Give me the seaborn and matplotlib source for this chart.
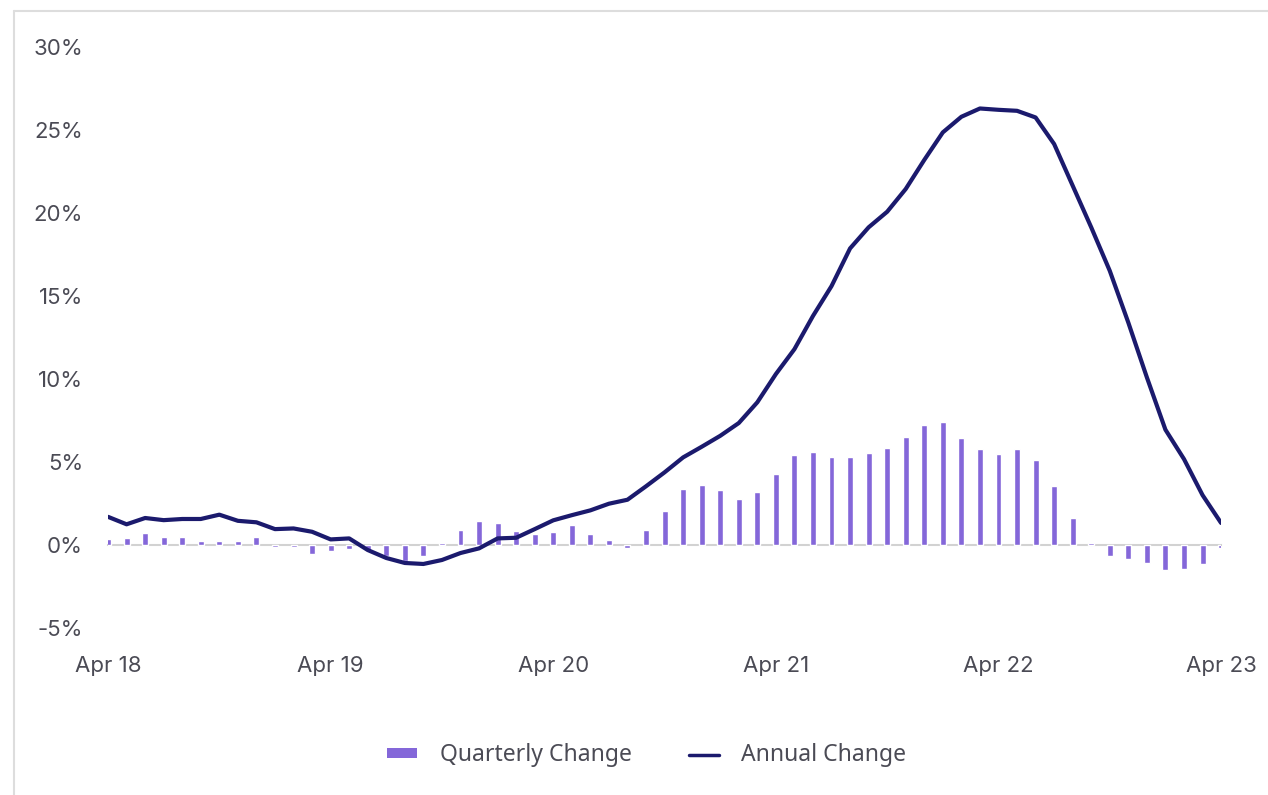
import numpy as np
import pandas as pd
import matplotlib
matplotlib.use("Agg")
import matplotlib.pyplot as plt
import seaborn as sns
from matplotlib.lines import Line2D
from matplotlib.patches import Patch

# ---- data (monthly, Apr 2018 .. Apr 2023) ----
months = pd.date_range("2018-04-01", "2023-04-01", freq="MS").strftime("%b %y").tolist()

quarterly_change = [
    0.36, 0.44, 0.72, 0.50, 0.46, 0.22, 0.26, 0.26, 0.46,            # Apr-Dec 18
    -0.10, -0.12, -0.54, -0.34, -0.22, -0.32, -0.66, -0.96, -0.66,   # Jan-Sep 19
    0.10, 0.88, 1.43,                                               # Oct-Dec 19
    1.30, 0.82, 0.64, 0.76, 1.18, 0.68, 0.32, -0.16, 0.92,           # Jan-Sep 20
    2.05, 3.37, 3.63,                                               # Oct-Dec 20
    3.33, 2.77, 3.19, 4.30, 5.44, 5.58, 5.30, 5.28, 5.54,            # Jan-Sep 21
    5.86, 6.53, 7.23,                                               # Oct-Dec 21
    7.43, 6.43, 5.76, 5.46, 5.76, 5.14, 3.57, 1.63, 0.10,            # Jan-Sep 22
    -0.66, -0.86, -1.06,                                            # Oct-Dec 22
    -1.50, -1.45, -1.14, -0.15,                                     # Jan-Apr 23
]

annual_change = [
    1.70, 1.25, 1.63, 1.50, 1.57, 1.57, 1.83, 1.46, 1.37,            # Apr-Dec 18
    0.96, 1.00, 0.80, 0.34, 0.40, -0.30, -0.78, -1.08, -1.14,        # Jan-Sep 19
    -0.90, -0.48, -0.20,                                            # Oct-Dec 19
    0.40, 0.44, 0.96, 1.49, 1.80, 2.09, 2.49, 2.73, 3.54,            # Jan-Sep 20
    4.38, 5.28, 5.92,                                               # Oct-Dec 20
    6.58, 7.35, 8.60, 10.30, 11.80, 13.80, 15.60, 17.87, 19.14,      # Jan-Sep 21
    20.08, 21.45, 23.20,                                            # Oct-Dec 21
    24.86, 25.80, 26.30, 26.22, 26.16, 25.76, 24.16, 21.65, 19.14,   # Jan-Sep 22
    16.52, 13.40, 10.10,                                            # Oct-Dec 22
    6.95, 5.18, 3.01, 1.33,                                         # Jan-Apr 23
]

xtick_labels = ["Apr 18", "Apr 19", "Apr 20", "Apr 21", "Apr 22", "Apr 23"]
ytick_values = [-5, 0, 5, 10, 15, 20, 25, 30]

# ---- styling ----
BAR_COLOR = "#8467d9"
LINE_COLOR = "#1b1a6d"
TEXT_COLOR = "#4b4b55"

sns.set_theme(style="white")
plt.rcParams["font.family"] = ["Inter", "DejaVu Sans"]

df = pd.DataFrame({
    "idx": np.arange(len(months)),
    "month": months,
    "quarterly": quarterly_change,
    "annual": annual_change,
})

fig = plt.figure(figsize=(12.68, 7.95), dpi=100)
ax = fig.add_axes([0.0852, 0.21, 0.963 - 0.0852, 0.7308])

sns.barplot(data=df, x="idx", y="quarterly", native_scale=True, width=0.32,
            color=BAR_COLOR, saturation=1, ax=ax, zorder=2)
sns.lineplot(data=df, x="idx", y="annual", color=LINE_COLOR, linewidth=3.0,
             ax=ax, zorder=3)

ax.set_xlim(0, len(months) - 1)
ax.set_ylim(-5, 30)

# zero baseline as the bottom spine, with year tick marks
for s in ["top", "right", "left"]:
    ax.spines[s].set_visible(False)
ax.spines["bottom"].set_position(("data", 0))
ax.spines["bottom"].set_color("#d2d2d2")
ax.spines["bottom"].set_linewidth(1.5)
ax.spines["bottom"].set_zorder(1)

tick_pos = [months.index(lbl) for lbl in xtick_labels]
ax.set_xticks(tick_pos)
ax.set_xticklabels(xtick_labels)
ax.tick_params(axis="x", direction="out", length=7, width=1.2, color="#d2d2d2",
               pad=73, labelsize=16, labelcolor=TEXT_COLOR)
ax.set_yticks(ytick_values)
ax.set_yticklabels([f"{v}%" for v in ytick_values])
ax.tick_params(axis="y", length=0, pad=18, labelsize=16, labelcolor=TEXT_COLOR)
ax.set_xlabel("")
ax.set_ylabel("")
ax.grid(False)

# legend
handles = [Patch(facecolor=BAR_COLOR, edgecolor="none"),
           Line2D([0], [0], color=LINE_COLOR, linewidth=2.5)]
leg = fig.legend(handles, ["Quarterly Change", "Annual Change"],
                 loc="center", bbox_to_anchor=(0.51, 0.05), ncol=2, frameon=False,
                 handlelength=1.3, handleheight=0.3, handletextpad=1.0, columnspacing=2.5,
                 prop={"family": ["Noto Sans", "DejaVu Sans"], "size": 16.5})
for t in leg.get_texts():
    t.set_color(TEXT_COLOR)

# light frame lines (top and left) of the card
fig.add_artist(Line2D([14 / 1268, 1], [1 - 11 / 795, 1 - 11 / 795],
                      transform=fig.transFigure, color="#dddddd", linewidth=1.5))
fig.add_artist(Line2D([14 / 1268, 14 / 1268], [0, 1 - 11 / 795],
                      transform=fig.transFigure, color="#dddddd", linewidth=1.5))

fig.savefig("out.png", dpi=100)
